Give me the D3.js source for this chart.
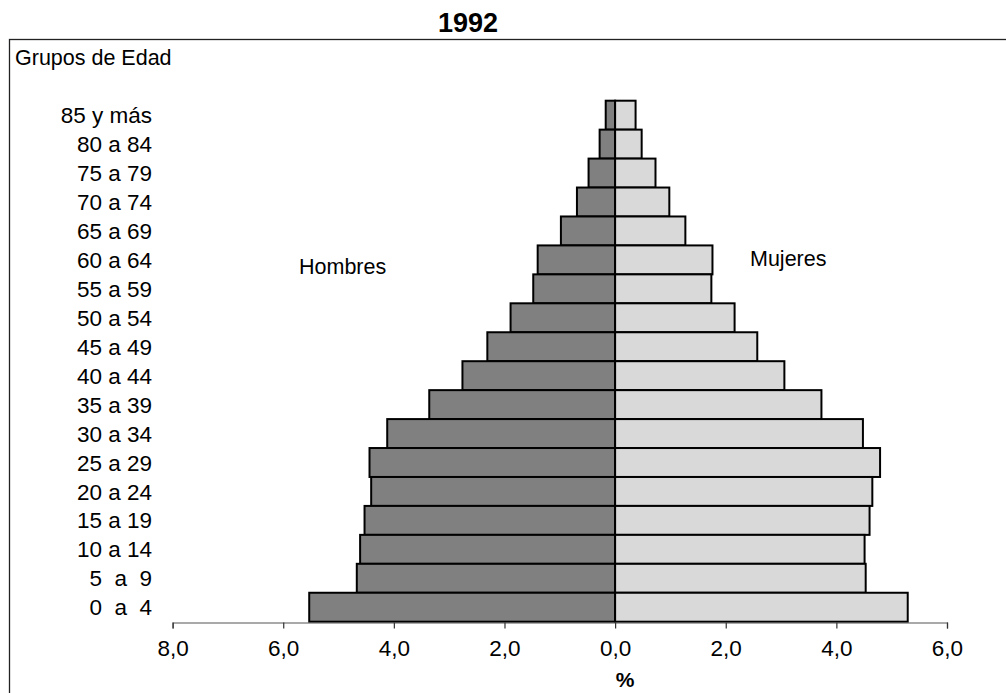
<!DOCTYPE html>
<html>
<head>
<meta charset="utf-8">
<script src="https://cdn.jsdelivr.net/npm/d3@7"></script>
<style>
    body { margin: 0; background: #fff; }
    svg text { font-family: "Liberation Sans", Arial, sans-serif; fill: #000; }
</style>
</head>
<body>
<svg class="pyramid" width="1006" height="693"></svg>
<script>
(function () {

    'use strict';

    var title = "1992";
    var groups = ["85 y más", "80 a 84", "75 a 79", "70 a 74", "65 a 69", "60 a 64", "55 a 59",
        "50 a 54", "45 a 49", "40 a 44", "35 a 39", "30 a 34", "25 a 29", "20 a 24",
        "15 a 19", "10 a 14", "5  a  9", "0  a  4"];
    var hombres = [0.17, 0.28, 0.48, 0.69, 0.98, 1.40, 1.48, 1.89, 2.31, 2.76, 3.36, 4.12, 4.44, 4.41, 4.53, 4.61, 4.67, 5.53];
    var mujeres = [0.37, 0.48, 0.73, 0.98, 1.27, 1.76, 1.74, 2.16, 2.57, 3.06, 3.73, 4.48, 4.79, 4.65, 4.60, 4.51, 4.53, 5.29];
    var ticks = [-8, -6, -4, -2, 0, 2, 4, 6];

    var svg = d3.select("svg.pyramid");

    // chart frame (runs off the right and bottom edge)
    svg.append("rect")
        .attr("x", 9.5)
        .attr("y", 39.5)
        .attr("width", 1010)
        .attr("height", 700)
        .attr("fill", "none")
        .attr("stroke", "#222")
        .attr("stroke-width", 1.3);

    svg.append("text")
        .attr("x", 468)
        .attr("y", 32)
        .attr("text-anchor", "middle")
        .attr("font-size", 27)
        .attr("font-weight", "bold")
        .text(title);

    svg.append("text")
        .attr("x", 15)
        .attr("y", 65)
        .attr("font-size", 21.5)
        .text("Grupos de Edad");

    var x = d3.scaleLinear().domain([-8, 6]).range([172.6, 947]);
    var y = d3.scaleBand().domain(groups).range([100.7, 621.7]).padding(0);

    var rows = groups.map(function (g, i) {
        return { group: g, h: hombres[i], m: mujeres[i] };
    });

    var g = svg.append("g");

    g.selectAll("rect.h")
        .data(rows)
        .enter().append("rect")
        .attr("class", "h")
        .attr("x", function (d) { return x(-d.h); })
        .attr("y", function (d) { return y(d.group); })
        .attr("width", function (d) { return x(0) - x(-d.h); })
        .attr("height", y.bandwidth())
        .attr("fill", "#808080")
        .attr("stroke", "#000")
        .attr("stroke-width", 2);

    g.selectAll("rect.m")
        .data(rows)
        .enter().append("rect")
        .attr("class", "m")
        .attr("x", x(0))
        .attr("y", function (d) { return y(d.group); })
        .attr("width", function (d) { return x(d.m) - x(0); })
        .attr("height", y.bandwidth())
        .attr("fill", "#d9d9d9")
        .attr("stroke", "#000")
        .attr("stroke-width", 2);

    // age group labels
    svg.append("g")
        .selectAll("text")
        .data(groups)
        .enter().append("text")
        .attr("x", 152)
        .attr("y", function (d) { return y(d) + y.bandwidth() / 2; })
        .attr("dy", "0.36em")
        .attr("text-anchor", "end")
        .attr("font-size", 22.5)
        .style("white-space", "pre")
        .text(function (d) { return d; });

    // x axis
    var axis = svg.append("g")
        .attr("transform", "translate(0,622.5)")
        .call(d3.axisBottom(x)
            .tickValues(ticks)
            .tickSize(6)
            .tickPadding(12)
            .tickFormat(function (d) { return d3.format(".1f")(Math.abs(d)).replace(".", ","); }));

    axis.select(".domain").attr("stroke", "#555").attr("stroke-width", 1.2);
    axis.selectAll(".tick line").attr("stroke", "#333").attr("stroke-width", 1.2);
    axis.selectAll(".tick text")
        .attr("font-size", 22.5)
        .attr("font-family", "Liberation Sans, Arial, sans-serif")
        .attr("fill", "#000");

    svg.append("text")
        .attr("x", 625)
        .attr("y", 687)
        .attr("text-anchor", "middle")
        .attr("font-size", 21)
        .attr("font-weight", "bold")
        .text("%");

    svg.append("text")
        .attr("x", 299)
        .attr("y", 274)
        .attr("font-size", 21.5)
        .text("Hombres");

    svg.append("text")
        .attr("x", 750)
        .attr("y", 266)
        .attr("font-size", 21.5)
        .text("Mujeres");

})();
</script>
</body>
</html>
